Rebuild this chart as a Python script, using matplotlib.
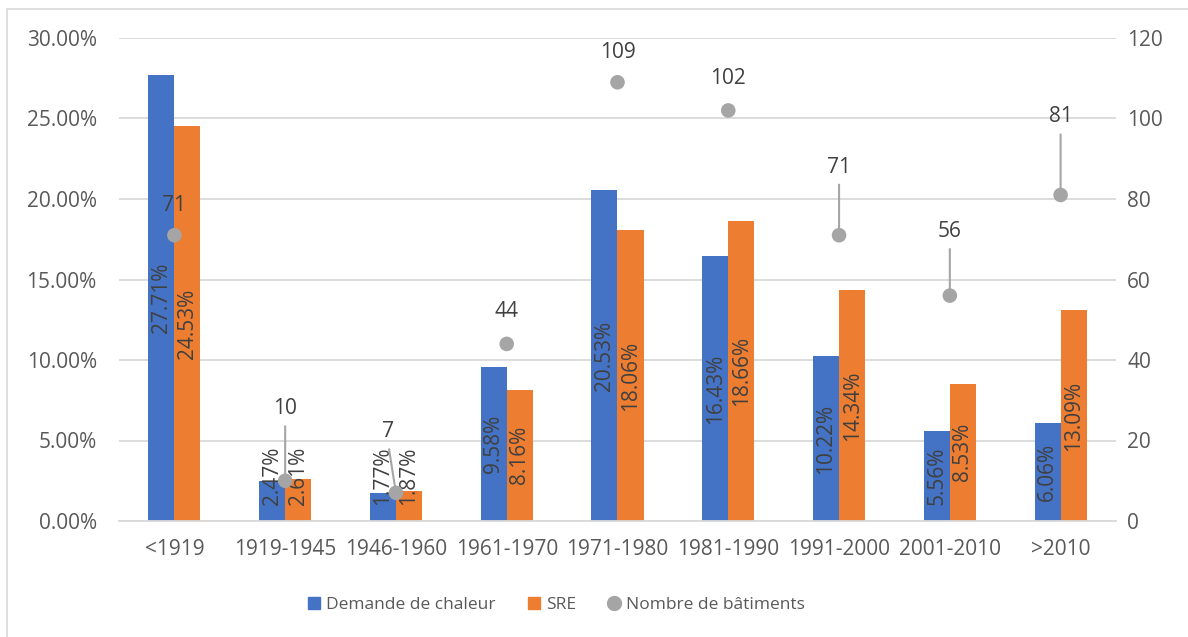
import matplotlib
matplotlib.use("Agg")
import matplotlib.pyplot as plt
from matplotlib.lines import Line2D
from matplotlib.patches import Rectangle
import numpy as np

# --- data ---
periods = ["<1919", "1919-1945", "1946-1960", "1961-1970", "1971-1980",
           "1981-1990", "1991-2000", "2001-2010", ">2010"]
demande = [27.71, 2.47, 1.77, 9.58, 20.53, 16.43, 10.22, 5.56, 6.06]
sre = [24.53, 2.61, 1.87, 8.16, 18.06, 18.66, 14.34, 8.53, 13.09]
nombre = [71, 10, 7, 44, 109, 102, 71, 56, 81]

# label placement for the count labels (pixels above / beside the dot)
label_dy = [30, 72, 61, 32, 30, 32, 68, 64, 78]
label_dx = [0, 0, -8, 0, 0, 0, 0, 0, 0]

BLUE = "#4472C4"
ORANGE = "#ED7D31"
GREY = "#A5A5A5"
TXT = "#595959"
DARK = "#404040"
GRID = "#D9D9D9"

plt.rcParams["font.family"] = ["Open Sans", "DejaVu Sans"]
FS = 15

fig = plt.figure(figsize=(11.88, 6.37), dpi=100)
ax = fig.add_axes([119 / 1188, 1 - 521 / 637, 997 / 1188, 483 / 637])
ax2 = ax.twinx()

# outer chart frame
fig.patches.append(Rectangle((7 / 1188, -0.1), 1.2, 1 - 9 / 637 + 0.1,
                             transform=fig.transFigure, fill=False,
                             edgecolor=GRID, lw=1.2))

x = np.arange(len(periods))
w = 0.235
b1 = ax.bar(x - w / 2, demande, w, color=BLUE, zorder=2)
b2 = ax.bar(x + w / 2, sre, w, color=ORANGE, zorder=2)

# percentage labels inside bars, rotated
for bars, vals in ((b1, demande), (b2, sre)):
    for rect, v in zip(bars, vals):
        ax.text(rect.get_x() + rect.get_width() / 2, max(v / 2, 2.8),
                f"{v:.2f}%", rotation=90, ha="center", va="center",
                fontsize=FS, color=DARK, zorder=3)

ax.set_xlim(-0.5, len(periods) - 0.5)
ax.set_ylim(0, 30)
ax.set_yticks(np.arange(0, 31, 5))
ax.set_yticklabels([f"{t:.2f}%" for t in np.arange(0, 31, 5)])
ax.set_xticks(x)
ax.set_xticklabels(periods)
ax.grid(axis="y", color=GRID, lw=1.3, zorder=0)
ax.set_axisbelow(True)
for s in ax.spines.values():
    s.set_visible(False)
ax.spines["bottom"].set_visible(True)
ax.spines["bottom"].set_color(GRID)
ax.spines["bottom"].set_linewidth(1.3)
ax.tick_params(axis="y", length=0, pad=16, labelsize=FS, labelcolor=TXT)
ax.tick_params(axis="x", length=0, pad=13, labelsize=FS, labelcolor=TXT)

# building counts on the right axis
ax2.scatter(x, nombre, s=110, color=GREY, zorder=5, edgecolors="none")
ax2.set_ylim(0, 120)
ax2.set_yticks(np.arange(0, 121, 20))
ax2.tick_params(axis="y", length=0, pad=8, labelsize=FS, labelcolor=TXT)
for s in ax2.spines.values():
    s.set_visible(False)

for xi, n, dy, dx in zip(x, nombre, label_dy, label_dx):
    if dy > 40:
        ax2.annotate(str(n), (xi, n), xytext=(dx, dy), textcoords="offset pixels",
                     ha="center", va="center", fontsize=FS, color=DARK,
                     arrowprops=dict(arrowstyle="-", color=GREY, lw=1.5,
                                     shrinkA=3, shrinkB=0, relpos=(0.5, 0)),
                     zorder=4)
    else:
        ax2.annotate(str(n), (xi, n), xytext=(dx, dy), textcoords="offset pixels",
                     ha="center", va="center", fontsize=FS, color=DARK, zorder=4)

handles = [
    Line2D([], [], ls="none", marker="s", markersize=9, color=BLUE),
    Line2D([], [], ls="none", marker="s", markersize=9, color=ORANGE),
    Line2D([], [], ls="none", marker="o", markersize=10, color=GREY),
]
fig.legend(handles, ["Demande de chaleur", "SRE", "Nombre de bâtiments"],
           loc="center", bbox_to_anchor=(556 / 1188, 1 - 605 / 637), ncol=3,
           frameon=False, fontsize=12.5, labelcolor=TXT, handlelength=0.8,
           handletextpad=0.3, columnspacing=1.8)

fig.savefig("out.png", dpi=100)
